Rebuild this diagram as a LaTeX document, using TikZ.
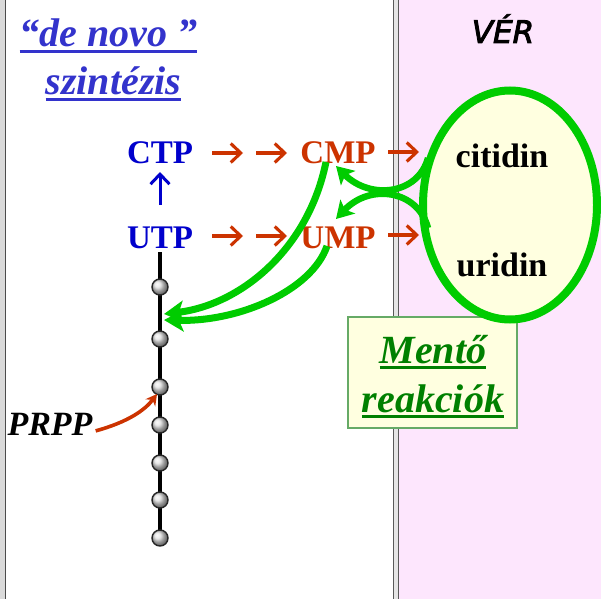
\documentclass[tikz,border=0pt]{standalone}
\usepackage{fontspec}
\setmainfont{Liberation Serif}
\newfontfamily\versans[FakeBold=3]{DejaVu Sans Oblique}
\usetikzlibrary{arrows.meta,shapes.geometric}

\definecolor{titleblue}{HTML}{3333CC}
\definecolor{ntpblue}{HTML}{0000CC}
\definecolor{rxred}{HTML}{CC3300}
\definecolor{salvgreen}{HTML}{00CC00}
\definecolor{textgreen}{HTML}{008000}
\definecolor{boxedge}{HTML}{66AA66}
\definecolor{paleyellow}{HTML}{FFFFE0}
\definecolor{bloodpink}{HTML}{FDE6FD}
\definecolor{edgegray}{HTML}{DADADA}

% text with a heavy underline
\newcommand\thickul[2]{\vtop{\hbox{#2}\kern#1\hrule height 3pt}}

\begin{document}
\begin{tikzpicture}[x=1pt,y=-1pt,
  lbl/.style={inner sep=0pt, anchor=base},
  bigbi/.style={font=\fontsize{40}{46}\selectfont\bfseries\itshape},
  ntp/.style={lbl, text=ntpblue, font=\fontsize{33}{38}\selectfont\bfseries},
  nmp/.style={lbl, text=rxred, font=\fontsize{33}{38}\selectfont\bfseries},
  nuc/.style={lbl, font=\fontsize{34}{38}\selectfont\bfseries},
  steparrow/.style={line width=3.1pt, -{Straight Barb[length=10pt,width=19pt]}},
  bead/.style={circle, minimum size=16pt, inner sep=0pt, draw=black!85,
    line width=1.4pt, ball color=black!12},
  salvage/.style={salvgreen, line width=7pt,
    -{Stealth[length=20pt,width=22pt,inset=5pt]}},
  backarrow/.style={salvgreen, line width=6.5pt,
    -{Stealth[length=17pt,width=20pt,inset=4pt]}}]
\useasboundingbox (0,0) rectangle (601,599);

% background: cell side, membrane, blood side
\fill[white] (0,0) rectangle (601,599);
\fill[bloodpink] (399,0) rectangle (601,599);
\fill[edgegray] (0,0) rectangle (5,599);
\draw[line width=1.3pt, black!70] (5.5,0) -- (5.5,599);
\fill[black!10] (393,0) rectangle (399,599);
\draw[line width=1pt, black!65] (393.5,0) -- (393.5,599) (398.5,0) -- (398.5,599);

% headings
\node[lbl, bigbi, text=titleblue] (denovo) at (108.5,47) {\thickul{2.5pt}{“de novo ”}};
\node[lbl, bigbi, text=titleblue] (szint) at (113.5,95) {\thickul{2.5pt}{szintézis}};
\node[lbl, font=\versans\fontsize{31}{35}\selectfont] (ver) at (503,43) {VÉR};

% ribose-phosphate chain
\draw[line width=4pt] (160,252) -- (160,538);
\foreach \i/\y in {1/287,2/339,3/387,4/425,5/463,6/500,7/538}
  \node[bead] (b\i) at (160,\y) {};

% PRPP feeding in
\node[lbl, font=\fontsize{34}{38}\selectfont\bfseries\itshape] (prpp) at (50,435) {PRPP};
\draw[rxred, line width=3.6pt, -{Stealth[length=11pt,width=12pt]}]
  (prpp.east) ++(3pt,-7pt) coordinate (prppout)
  (prppout) .. controls (128,422) and (145,410) .. (157,394);

% nucleotides
\node[ntp] (ctp) at (160,163) {CTP};
\node[ntp] (utp) at (160,248) {UTP};
\node[nmp] (cmp) at (338,163) {CMP};
\node[nmp] (ump) at (338,248) {UMP};

\coordinate (up1) at (160,205);
\coordinate (up2) at (160,172);
\draw[ntpblue, steparrow, line width=3pt] (up1) -- (up2);

\foreach \y/\n in {153/c,236/u}{
  \draw[rxred, steparrow] (212,\y) -- (243,\y);
  \draw[rxred, steparrow] (256,\y) -- (287,\y);
  \draw[rxred, steparrow] (388,\y-1) -- (419,\y-1);
}

% salvage box
\node[draw=boxedge, line width=1.5pt, fill=paleyellow, minimum width=169pt,
  minimum height=111pt, inner sep=0pt] (mento) at (432.5,372.5) {};
\node[lbl, bigbi, text=textgreen] (mento1) at (433,363) {\thickul{3pt}{Mentő}};
\node[lbl, bigbi, text=textgreen] (mento2) at (433,412) {\thickul{3pt}{reakciók}};

% blood pool
\node[ellipse, draw=salvgreen, line width=8pt, fill=paleyellow,
  minimum width=174pt, minimum height=229pt, inner sep=0pt] (pool) at (510,205) {};
\node[nuc] (citidin) at (502,167) {citidin};
\node[nuc] (uridin) at (502,276) {uridin};

% salvage back to the monophosphates
\coordinate (pc) at (428,158);
\coordinate (pu) at (428,228);
\draw[backarrow] (pc) .. controls (418,195) and (370,200) .. (336,166);
\draw[backarrow] (pu) .. controls (418,190) and (370,183) .. (336,219);

% monophosphates recycled onto the chain
\coordinate (cmpout) at (326,162);
\coordinate (umpout) at (327,246);
\draw[salvage] (cmpout) .. controls (308,250) and (240,305) .. (164,314);
\draw[salvage] (umpout) .. controls (312,290) and (240,322) .. (164,320);
\end{tikzpicture}
\end{document}
